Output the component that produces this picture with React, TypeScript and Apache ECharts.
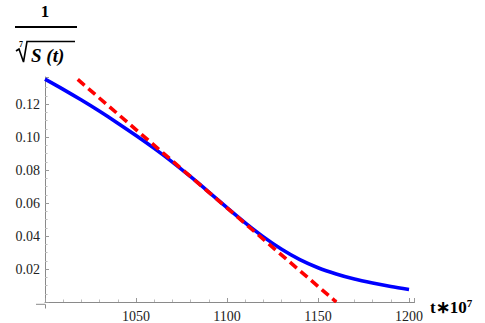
import React, { useEffect, useRef } from "react";
import * as echarts from "echarts";

const curveT = [1000, 1010, 1020, 1030, 1040, 1050, 1060, 1070, 1080, 1090, 1100, 1110, 1120, 1130, 1140, 1150, 1160, 1170, 1180, 1190, 1200];
const curveY = [0.1352, 0.129, 0.1225, 0.1157, 0.1085, 0.101, 0.0932, 0.0849, 0.076, 0.0667, 0.0572, 0.048, 0.0395, 0.032, 0.0257, 0.0208, 0.017, 0.0139, 0.0115, 0.0094, 0.0076];
const tangentT = [1018, 1160];
const tangentY = [0.135, 0];
const xTicks = [1050, 1100, 1150, 1200];
const yTicks = [0.02, 0.04, 0.06, 0.08, 0.1, 0.12];

const SERIF = "Times New Roman, Liberation Serif, serif";

export default function App() {
  const ref = useRef<HTMLDivElement>(null);
  useEffect(() => {
    document.body.style.margin = "0";
    if (!ref.current) return;
    const chart = echarts.init(ref.current, null, { renderer: "svg" });
    const txt = (x: number, y: number, text: string, size: number, weight: string, style: string, align = "center") => ({
      type: "text",
      x,
      y,
      style: {
        text,
        fontFamily: SERIF,
        fontSize: size,
        fontWeight: weight,
        fontStyle: style,
        fill: "#000",
        align,
        verticalAlign: "middle",
      },
    });
    chart.setOption({
      animation: false,
      backgroundColor: "#ffffff",
      grid: { left: 45, right: 70.5, top: 77, bottom: 18.7 },
      xAxis: {
        type: "value",
        min: 1000,
        max: 1203,
        interval: 50,
        splitLine: { show: false },
        axisLine: { show: true, onZero: false, lineStyle: { color: "#8a8a8a", width: 1 } },
        axisTick: { show: true, inside: true, length: 4, lineStyle: { color: "#999" } },
        minorTick: { show: true, splitNumber: 5, length: 2.5, lineStyle: { color: "#bbb" } },
        axisLabel: {
          margin: 7,
          fontFamily: SERIF,
          fontSize: 14,
          color: "#222",
          formatter: (v: number) => (xTicks.indexOf(v) >= 0 ? String(v) : ""),
        },
      },
      yAxis: {
        type: "value",
        min: 0,
        max: 0.1365,
        interval: 0.02,
        splitLine: { show: false },
        axisLine: { show: true, onZero: false, lineStyle: { color: "#8a8a8a", width: 1 } },
        axisTick: { show: true, inside: true, length: 4, lineStyle: { color: "#999" } },
        minorTick: { show: true, splitNumber: 4, length: 2.5, lineStyle: { color: "#bbb" } },
        axisLabel: {
          margin: 5,
          fontFamily: SERIF,
          fontSize: 14,
          color: "#222",
          formatter: (v: number) => {
            const hit = yTicks.find((t) => Math.abs(t - v) < 1e-9);
            return hit !== undefined ? hit.toFixed(2) : "";
          },
        },
      },
      series: [
        {
          type: "line",
          data: curveT.map((t, i) => [t, curveY[i]]),
          smooth: 0.3,
          showSymbol: false,
          lineStyle: { color: "#0000ff", width: 3.6 },
          z: 2,
        },
        {
          type: "line",
          data: tangentT.map((t, i) => [t, tangentY[i]]),
          showSymbol: false,
          lineStyle: { color: "#ff0000", width: 3.6, type: [9, 5] },
          z: 3,
        },
      ],
      graphic: [
        { type: "line", shape: { x1: 36, y1: 304.3, x2: 45, y2: 304.3 }, style: { stroke: "#8a8a8a", lineWidth: 1 } },
        { type: "line", shape: { x1: 45.5, y1: 304.3, x2: 45.5, y2: 308.5 }, style: { stroke: "#8a8a8a", lineWidth: 1 } },
        txt(45, 11, "1", 17, "bold", "normal"),
        { type: "line", shape: { x1: 15, y1: 27, x2: 77, y2: 27 }, style: { stroke: "#000", lineWidth: 2 } },
        {
          type: "polyline",
          shape: { points: [[16, 51], [19, 49], [23.5, 62], [27, 41.5], [75, 41.5]] },
          style: { stroke: "#000", lineWidth: 1.6, fill: null },
        },
        txt(21, 44, "7", 8, "bold", "normal"),
        txt(31, 55, "S (t)", 19, "bold", "italic", "left"),
        {
          type: "text",
          x: 430,
          y: 318,
          style: {
            text: "{a|t∗10}{b|7}",
            align: "left",
            verticalAlign: "bottom",
            rich: {
              a: { fontFamily: SERIF, fontSize: 17, fontWeight: "bold", fill: "#000", color: "#000" },
              b: { fontFamily: SERIF, fontSize: 11, fontWeight: "bold", fill: "#000", color: "#000", padding: [0, 0, 10, 0] },
            },
          },
        },
      ],
    });
    return () => chart.dispose();
  }, []);
  return <div ref={ref} style={{ width: 485, height: 323 }} />;
}
